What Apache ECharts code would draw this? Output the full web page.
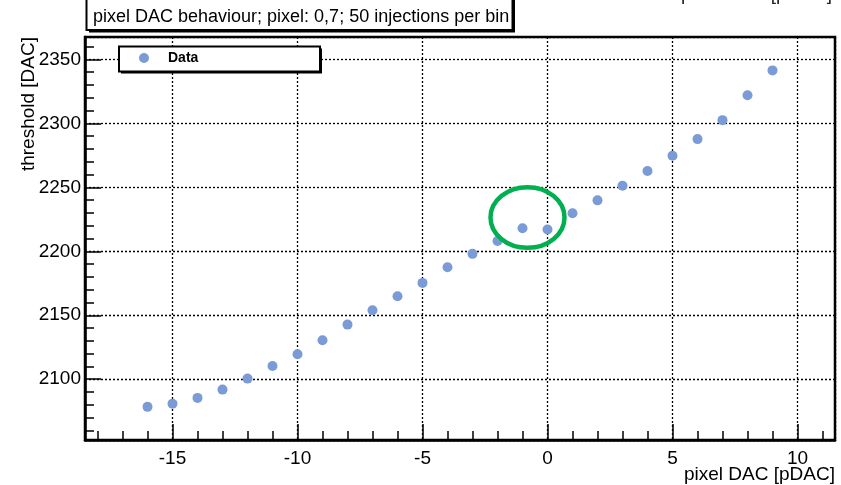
<!DOCTYPE html>
<html>
<head>
<meta charset="utf-8">
<script src="https://cdn.jsdelivr.net/npm/echarts@6/dist/echarts.min.js"></script>
<style>
  html, body { margin: 0; padding: 0; background: #ffffff; }
  #chart { width: 841px; height: 485px; }
</style>
</head>
<body>
<div id="chart"></div>
<script>
// Threshold scan of the pixel DAC, one point per DAC setting
const pixelDac = [-16, -15, -14, -13, -12, -11, -10, -9, -8, -7, -6, -5, -4,
                  -3, -2, -1, 0, 1, 2, 3, 4, 5, 6, 7, 8, 9];
const thresholds = [2078.4, 2080.9, 2085.4, 2091.9, 2100.5, 2110.4, 2119.5, 2130.5,
                    2142.7, 2153.9, 2164.9, 2175.3, 2187.5, 2198.0, 2208.1, 2218.0,
                    2217.0, 2229.7, 2239.8, 2251.2, 2262.7, 2274.7, 2287.7, 2302.5,
                    2321.9, 2341.4];

// Axis ranges and labelled ticks
const xRange = [-18.5, 11.5];
const yRange = [2052.5, 2367.5];
const xTickLabels = [-15, -10, -5, 0, 5, 10];
const yTickLabels = [2100, 2150, 2200, 2250, 2300, 2350];
const xMajorStep = 5, xMinorStep = 1;
const yMajorStep = 50, yMinorStep = 10;

// Texts
const titleText = 'pixel DAC behaviour; pixel: 0,7; 50 injections per bin';
const xTitle = 'pixel DAC [pDAC]';
const yTitle = 'threshold [DAC]';
const legendLabel = 'Data';

// Ring marking the non-monotonic step around 0 (data units)
const highlightRing = { x: -0.8, y: 2226.4, rx: 1.48, ry: 23.7 };

const FONT = '"Liberation Sans", Arial, Helvetica, sans-serif';
const plot = { left: 85, right: 835, top: 37, bottom: 440 };
const MARK = '#7b9bd6';

const pxX = v => plot.left + (v - xRange[0]) / (xRange[1] - xRange[0]) * (plot.right - plot.left);
const pxY = v => plot.bottom - (v - yRange[0]) / (yRange[1] - yRange[0]) * (plot.bottom - plot.top);

const xMinor = [Math.ceil(xRange[0] / xMinorStep) * xMinorStep, Math.floor(xRange[1] / xMinorStep) * xMinorStep];
const yMinor = [Math.ceil(yRange[0] / yMinorStep) * yMinorStep, Math.floor(yRange[1] / yMinorStep) * yMinorStep];

const points = pixelDac.map((x, i) => [x, thresholds[i]]);

const gridLine = { show: true, lineStyle: { color: '#000', width: 1.3, type: [2, 2] } };
const majorTick = { show: true, inside: true, length: 16, lineStyle: { color: '#000', width: 1.5 } };
const minorTick = { show: true, inside: true, length: 9, lineStyle: { color: '#000', width: 1.5 } };
const hidden = { show: false, min: 0, max: 1 };

const chart = echarts.init(document.getElementById('chart'), null, { renderer: 'canvas' });

const option = {
  backgroundColor: '#ffffff',
  animation: false,
  grid: [
    { left: plot.left, top: plot.top, width: plot.right - plot.left, height: plot.bottom - plot.top,
      show: true, borderColor: '#000', borderWidth: 2.5, backgroundColor: 'transparent',
      outerBoundsMode: 'none', containLabel: false },
    { left: pxX(xMinor[0]), width: pxX(xMinor[1]) - pxX(xMinor[0]),
      top: plot.top, height: plot.bottom - plot.top, outerBoundsMode: 'none', containLabel: false },
    { left: plot.left, width: plot.right - plot.left,
      top: pxY(yMinor[1]), height: pxY(yMinor[0]) - pxY(yMinor[1]), outerBoundsMode: 'none', containLabel: false }
  ],
  xAxis: [
    { gridIndex: 0, type: 'value', min: xRange[0], max: xRange[1],
      minInterval: xMajorStep, maxInterval: xMajorStep, splitNumber: 6,
      axisLine: { show: true, onZero: false, lineStyle: { color: '#000', width: 2.5 } },
      axisTick: majorTick,
      axisLabel: { show: true, showMinLabel: false, showMaxLabel: false, margin: 9,
                   fontSize: 19, color: '#000', fontFamily: FONT,
                   formatter: v => xTickLabels.includes(v) ? String(v) : '' },
      splitLine: gridLine },
    { gridIndex: 1, type: 'value', min: xMinor[0], max: xMinor[1], interval: xMinorStep,
      axisLine: { show: false }, axisTick: minorTick, axisLabel: { show: false }, splitLine: { show: false } },
    Object.assign({ gridIndex: 2, type: 'value' }, hidden)
  ],
  yAxis: [
    { gridIndex: 0, type: 'value', min: yRange[0], max: yRange[1],
      minInterval: yMajorStep, maxInterval: yMajorStep, splitNumber: 6,
      axisLine: { show: true, onZero: false, lineStyle: { color: '#000', width: 2.5 } },
      axisTick: majorTick,
      axisLabel: { show: true, showMinLabel: false, showMaxLabel: false, margin: 4,
                   fontSize: 19, color: '#000', fontFamily: FONT,
                   formatter: v => yTickLabels.includes(v) ? String(v) : '' },
      splitLine: gridLine },
    Object.assign({ gridIndex: 1, type: 'value' }, hidden),
    { gridIndex: 2, type: 'value', min: yMinor[0], max: yMinor[1], interval: yMinorStep,
      axisLine: { show: false }, axisTick: minorTick, axisLabel: { show: false }, splitLine: { show: false } }
  ],
  legend: {
    show: true, left: 139, top: 51, padding: 0, z: 20,
    icon: 'circle', itemWidth: 10, itemHeight: 10,
    textStyle: { fontSize: 14, fontWeight: 'bold', color: '#000', fontFamily: FONT, padding: [0, 0, 0, 14] },
    data: [legendLabel]
  },
  series: [
    { name: legendLabel, type: 'scatter', xAxisIndex: 0, yAxisIndex: 0, z: 5,
      symbol: 'circle', symbolSize: 10,
      itemStyle: { color: MARK, opacity: 1 },
      emphasis: { disabled: true },
      data: points }
  ],
  graphic: [
    // title box with shadow
    { type: 'rect', z: 10, shape: { x: 89, y: -6, width: 426, height: 38.5 }, style: { fill: '#000' } },
    { type: 'rect', z: 11, shape: { x: 86.5, y: -8.5, width: 426, height: 38.5 },
      style: { fill: '#fff', stroke: '#000', lineWidth: 2 } },
    { type: 'text', z: 12, x: 93, y: 17,
      style: { text: titleText, fontSize: 18, fontFamily: FONT, fill: '#000', align: 'left', verticalAlign: 'middle' } },
    // legend box with shadow
    { type: 'rect', z: 10, shape: { x: 121, y: 48.5, width: 201, height: 25 }, style: { fill: '#000' } },
    { type: 'rect', z: 11, shape: { x: 119, y: 46.5, width: 201, height: 25 },
      style: { fill: '#fff', stroke: '#000', lineWidth: 2 } },
    // axis titles
    { type: 'text', z: 12, x: 29, y: plot.top, rotation: Math.PI / 2,
      style: { text: yTitle, fontSize: 19, fontFamily: FONT, fill: '#000', align: 'right', verticalAlign: 'middle' } },
    { type: 'text', z: 12, x: plot.right, y: 475,
      style: { text: xTitle, fontSize: 19, fontFamily: FONT, fill: '#000', align: 'right', verticalAlign: 'middle' } },
    // axis title of the neighbouring panel, cut by the top edge
    { type: 'text', z: 12, x: 832, y: 4,
      style: { text: xTitle, fontSize: 19, fontFamily: FONT, fill: '#222', align: 'right', verticalAlign: 'bottom' } }
  ]
};

chart.setOption(option);

// Ring drawn in data units through the main grid's scales
const c = chart.convertToPixel({ gridIndex: 0 }, [highlightRing.x, highlightRing.y]);
const ex = chart.convertToPixel({ gridIndex: 0 }, [highlightRing.x + highlightRing.rx, highlightRing.y + highlightRing.ry]);
chart.setOption({
  graphic: option.graphic.concat([
    { type: 'ellipse', z: 30,
      shape: { cx: c[0], cy: c[1], rx: Math.abs(ex[0] - c[0]), ry: Math.abs(ex[1] - c[1]) },
      style: { fill: 'none', stroke: '#00b050', lineWidth: 4.5 } }
  ])
});
</script>
</body>
</html>
